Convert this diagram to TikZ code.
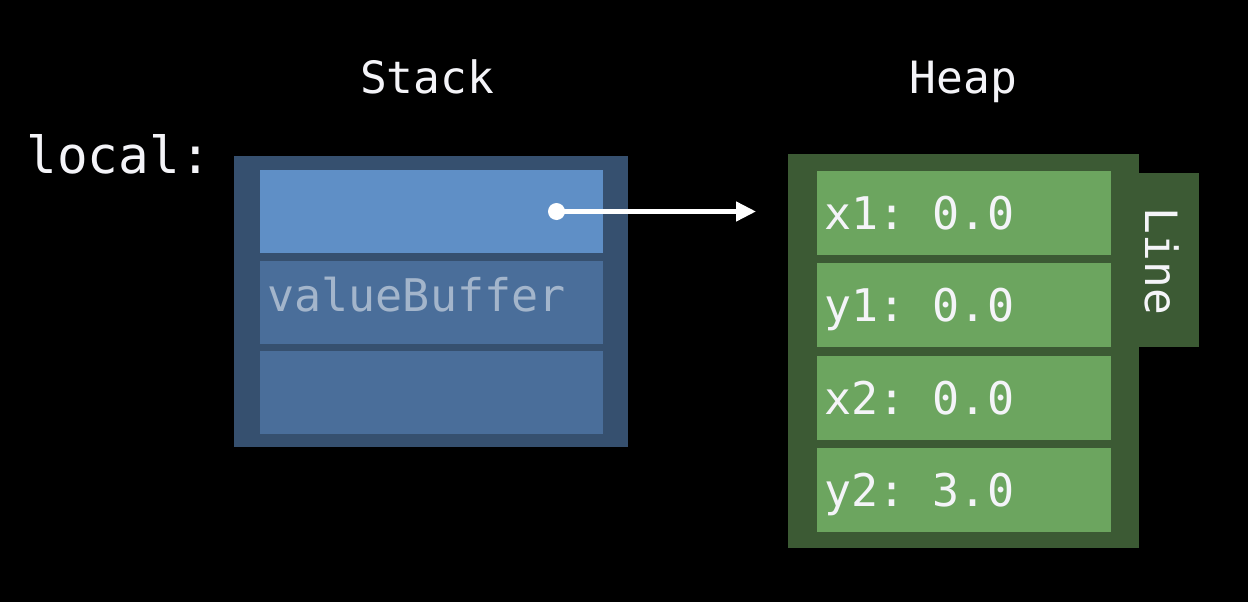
\documentclass[tikz,border=0pt]{standalone}
\usepackage{fontspec}
\setmonofont{DejaVu Sans Mono}
\usetikzlibrary{arrows.meta}
\definecolor{stackouter}{HTML}{36506F}
\definecolor{stacktop}{HTML}{5F8FC6}
\definecolor{stackcell}{HTML}{4A6E9A}
\definecolor{vbtext}{HTML}{A3B5CB}
\definecolor{heapouter}{HTML}{3C5A34}
\definecolor{heapcell}{HTML}{6CA55F}
\definecolor{txt}{HTML}{F4F4F8}
\tikzset{
  box/.style={inner sep=0pt, outer sep=0pt, anchor=north west},
  label44/.style={inner sep=0pt, outer sep=0pt, text=txt, font=\ttfamily\fontsize{44.5}{52}\selectfont},
  label45/.style={inner sep=0pt, outer sep=0pt, text=txt, font=\ttfamily\fontsize{45}{52}\selectfont},
}
\begin{document}
\begin{tikzpicture}[x=1pt,y=-1pt]
\useasboundingbox (0,0) rectangle (1248,602);
\fill[black] (0,0) rectangle (1248,602);
% headers
\node[label44, anchor=base] (stackhdr) at (427,93) {Stack};
\node[label44, anchor=base] (heaphdr) at (963.5,93) {Heap};
\node[label44, anchor=base west, font=\ttfamily\fontsize{51}{60}\selectfont] (local) at (26.5,173) {local:};
% stack
\node[box, fill=stackouter, minimum width=394pt, minimum height=291pt] (stack) at (234,156) {};
\node[box, fill=stacktop, minimum width=343pt, minimum height=83pt] (s1) at (260,170) {};
\node[box, fill=stackcell, minimum width=343pt, minimum height=83pt] (s2) at (260,260.5) {};
\node[box, fill=stackcell, minimum width=343pt, minimum height=83pt] (s3) at (260,351) {};
\node[label45, anchor=base west, text=vbtext] (vb) at (267.5,311) {valueBuffer};
% heap
\node[box, fill=heapouter, minimum width=351pt, minimum height=394pt] (heap) at (788,154) {};
\node[box, fill=heapouter, minimum width=61pt, minimum height=174pt] (tab) at (1138,173) {};
\node[label44, anchor=base, rotate=-90] (linelbl) at (1145,261.5) {Line};
\node[box, fill=heapcell, minimum width=294pt, minimum height=84pt] (h1) at (817,171) {};
\node[box, fill=heapcell, minimum width=294pt, minimum height=84pt] (h2) at (817,263) {};
\node[box, fill=heapcell, minimum width=294pt, minimum height=84pt] (h3) at (817,355.5) {};
\node[box, fill=heapcell, minimum width=294pt, minimum height=84pt] (h4) at (817,448) {};
\node[label45, anchor=base west] (t1) at (824.5,229) {x1: 0.0};
\node[label45, anchor=base west] (t2) at (824.5,321) {y1: 0.0};
\node[label45, anchor=base west] (t3) at (824.5,414) {x2: 0.0};
\node[label45, anchor=base west] (t4) at (824.5,506) {y2: 3.0};
% pointer
\node[circle, fill=white, inner sep=0pt, minimum size=17pt] (ptr) at (556.5,211.5) {};
\coordinate (target) at (756,211.5);
\draw[white, line width=4.5pt, -{Triangle[length=20pt, width=19pt]}] (ptr.center) -- (target);
\end{tikzpicture}
\end{document}
